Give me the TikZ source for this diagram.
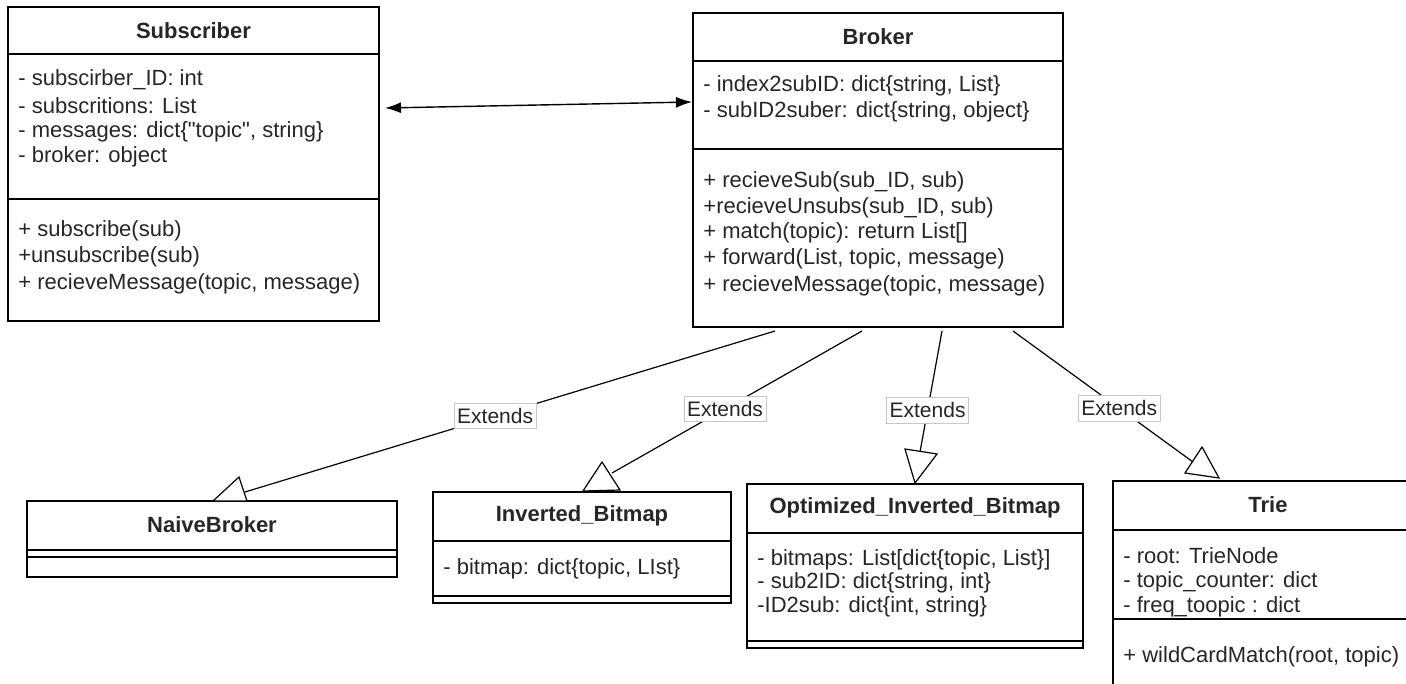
\documentclass[tikz,border=0pt]{standalone}
\usepackage{fontspec}
\setmainfont{Liberation Sans}[Ligatures=TeXOff]
\usetikzlibrary{arrows.meta,fit}
\begin{document}
\begin{tikzpicture}[x=0.5pt,y=-0.5pt,
  cls/.style={draw, line width=0.8pt, inner sep=0pt},
  sep/.style={line width=0.8pt},
  txt/.style={anchor=west, inner sep=0pt, font=\fontsize{11}{13}\selectfont, text=black!85},
  hdr/.style={inner sep=0pt, font=\fontsize{11}{13}\selectfont\bfseries, text=black!85},
  conn/.style={line width=0.6pt},
  lbl/.style={draw=black!22, fill=white, inner xsep=1.5pt, inner ysep=2.5pt, font=\fontsize{10.5}{12}\selectfont, text=black!85},
  tri/.style={line width=0.6pt, fill=white, line join=miter},
  dbl/.style={line width=0.7pt, {Latex[length=8pt,width=5.5pt]}-{Latex[length=8pt,width=5.5pt]}}
]
\path[use as bounding box] (0,0) rectangle (1406,684);
\clip (0,0) rectangle (1406,684);

% ---------- Subscriber ----------
\coordinate (subNW) at (8,7); \coordinate (subSE) at (379,321);
\node[cls, fit=(subNW)(subSE)] (sub) {};
\draw[sep] (8,54) -- (379,54);
\draw[sep] (8,199) -- (379,199);
\node[hdr] (subT) at (193.5,31) {Subscriber};
\node[txt] (sa1) at (18,80) {- subscirber\_ID: int};
\node[txt] (sa2) at (18,106) {- subscritions: List};
\node[txt] (sa3) at (18,132) {- messages: dict\{"topic", string\}};
\node[txt] (sa4) at (18,157) {- broker: object};
\node[txt] (sm1) at (18,231) {+ subscribe(sub)};
\node[txt] (sm2) at (18,257) {+unsubscribe(sub)};
\node[txt] (sm3) at (18,284) {+ recieveMessage(topic, message)};

% ---------- Broker ----------
\coordinate (brNW) at (693,13); \coordinate (brSE) at (1063,327);
\node[cls, fit=(brNW)(brSE)] (br) {};
\draw[sep] (693,61) -- (1063,61);
\draw[sep] (693,149) -- (1063,149);
\node[hdr] (brT) at (878,37) {Broker};
\node[txt] (ba1) at (703,86) {- index2subID: dict\{string, List\}};
\node[txt] (ba2) at (703,112) {- subID2suber: dict\{string, object\}};
\node[txt] (bm1) at (703,182) {+ recieveSub(sub\_ID, sub)};
\node[txt] (bm2) at (703,208) {+recieveUnsubs(sub\_ID, sub)};
\node[txt] (bm3) at (703,233) {+ match(topic): return List[]};
\node[txt] (bm4) at (703,259) {+ forward(List, topic, message)};
\node[txt] (bm5) at (703,286) {+ recieveMessage(topic, message)};

% ---------- NaiveBroker ----------
\coordinate (nbNW) at (27,501); \coordinate (nbSE) at (397,577);
\node[cls, fit=(nbNW)(nbSE)] (nb) {};
\draw[sep] (27,550) -- (397,550);
\draw[sep] (27,557) -- (397,557);
\node[hdr] (nbT) at (212,525) {NaiveBroker};

% ---------- Inverted_Bitmap ----------
\coordinate (ibNW) at (433,492); \coordinate (ibSE) at (731,603);
\node[cls, fit=(ibNW)(ibSE)] (ib) {};
\draw[sep] (433,541) -- (731,541);
\draw[sep] (433,596) -- (731,596);
\node[hdr] (ibT) at (582,516) {Inverted\_Bitmap};
\node[txt] (ia1) at (443,569) {- bitmap: dict\{topic, LIst\}};

% ---------- Optimized_Inverted_Bitmap ----------
\coordinate (obNW) at (747,484); \coordinate (obSE) at (1083,648);
\node[cls, fit=(obNW)(obSE)] (ob) {};
\draw[sep] (747,533) -- (1083,533);
\draw[sep] (747,641) -- (1083,641);
\node[hdr] (obT) at (915,508) {Optimized\_Inverted\_Bitmap};
\node[txt] (oa1) at (757,560) {- bitmaps: List[dict\{topic, List\}]};
\node[txt] (oa2) at (757,583) {- sub2ID: dict\{string, int\}};
\node[txt] (oa3) at (757,607) {-ID2sub: dict\{int, string\}};

% ---------- Trie ----------
\coordinate (trNW) at (1113,481); \coordinate (trSE) at (1423,720);
\node[cls, fit=(trNW)(trSE)] (tr) {};
\draw[sep] (1113,530) -- (1423,530);
\draw[sep] (1113,619) -- (1423,619);
\node[hdr] (trT) at (1268,505) {Trie};
\node[txt] (ta1) at (1123,556) {- root: TrieNode};
\node[txt] (ta2) at (1123,582) {- topic\_counter: dict};
\node[txt] (ta3) at (1123,607) {- freq\_toopic : dict};
\node[txt] (tm1) at (1123,657) {+ wildCardMatch(root, topic)};

% ---------- association ----------
\coordinate (a1) at (385,108);
\coordinate (a2) at (692,102);
\draw[dbl] (a1) -- (a2);

% ---------- Extends connectors ----------
\coordinate (b1) at (775,331); \coordinate (e1) at (245,492);
\coordinate (b2) at (862,331); \coordinate (e2) at (612,473);
\coordinate (b3) at (942,331); \coordinate (e3) at (920,452);
\coordinate (b4) at (1013,331); \coordinate (e4) at (1193,462);
\draw[conn] (b1) -- (e1);
\draw[conn] (b2) -- (e2);
\draw[conn] (b3) -- (e3);
\draw[conn] (b4) -- (e4);
\draw[tri] (213,501) -- (239,477) -- (247,501) -- cycle;
\draw[tri] (583,491) -- (602,462) -- (620,490) -- cycle;
\draw[tri] (905,449) -- (937,454) -- (915,483) -- cycle;
\draw[tri] (1185,473) -- (1202,447) -- (1219,478) -- cycle;
\path (b1) -- node[lbl, pos=0.528] (l1) {Extends} (e1);
\path (b2) -- node[lbl, pos=0.548] (l2) {Extends} (e2);
\path (b3) -- node[lbl, pos=0.656] (l3) {Extends} (e3);
\path (b4) -- node[lbl, pos=0.59] (l4) {Extends} (e4);
\end{tikzpicture}
\end{document}
